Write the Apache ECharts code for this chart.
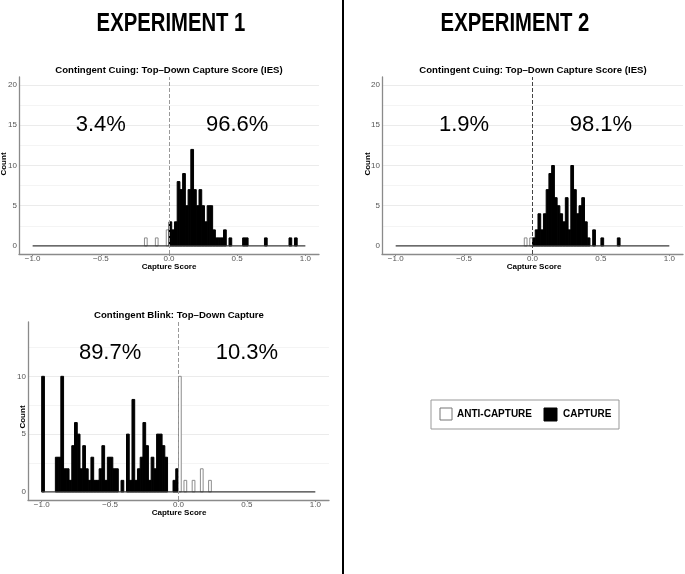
<!DOCTYPE html>
<html><head><meta charset="utf-8">
<script src="https://cdn.jsdelivr.net/npm/echarts@6/dist/echarts.min.js"></script>
<style>html,body{margin:0;padding:0;background:#fff}#c{width:685px;height:574px}</style>
</head><body><div id="c"></div>
<script>
// ---------- data ----------
const BIN = 0.02;                       // histogram bin width
const X_RANGE = [-1, 1];                // histogram range (zero-count outline)
const X_TICKS = [-1, -0.5, 0, 0.5, 1];
const Y_TICKS_TOP = [0, 5, 10, 15, 20];
const Y_TICKS_BOTTOM = [0, 5, 10];

// Experiment 1 – Contingent Cuing (bin left edges / counts)
const e1CueAntiEdges = [-0.18, -0.10, -0.02];
const e1CueAntiCounts = [1, 1, 2];
const e1CueCapEdges = [0.00,0.02,0.04,0.06,0.08,0.10,0.12,0.14,0.16,0.18,0.20,0.22,0.24,0.26,0.28,0.30,0.32,0.34,0.36,0.38,0.40,0.44,0.54,0.56,0.70,0.88,0.92];
const e1CueCapCounts = [3,2,3,8,7,9,5,7,12,7,5,7,5,3,5,5,2,1,1,1,2,1,1,1,1,1,1];
const e1CuePct = ['3.4%', '96.6%'];

// Experiment 2 – Contingent Cuing
const e2CueAntiEdges = [-0.06, -0.02];
const e2CueAntiCounts = [1, 1];
const e2CueCapEdges = [0.00,0.02,0.04,0.06,0.08,0.10,0.12,0.14,0.16,0.18,0.20,0.22,0.24,0.26,0.28,0.30,0.32,0.34,0.36,0.38,0.40,0.44,0.50,0.62];
const e2CueCapCounts = [1,2,4,2,4,7,9,10,6,5,4,3,6,2,10,7,4,5,6,3,1,2,1,1];
const e2CuePct = ['1.9%', '98.1%'];

// Experiment 1 – Contingent Blink
const e1BlinkCapEdges = [-1.00,-0.90,-0.88,-0.86,-0.84,-0.82,-0.80,-0.78,-0.76,-0.74,-0.72,-0.70,-0.68,-0.66,-0.64,-0.62,-0.60,-0.58,-0.56,-0.54,-0.52,-0.50,-0.48,-0.46,-0.42,-0.38,-0.36,-0.34,-0.32,-0.30,-0.28,-0.26,-0.24,-0.22,-0.20,-0.18,-0.16,-0.14,-0.12,-0.10,-0.04,-0.02];
const e1BlinkCapCounts = [10,3,3,10,2,2,1,4,6,5,2,4,2,1,3,1,1,2,4,1,3,3,2,2,1,5,1,8,1,2,3,6,4,1,3,2,5,5,4,3,1,2];
const e1BlinkAntiEdges = [0.00, 0.04, 0.10, 0.16, 0.22];
const e1BlinkAntiCounts = [10, 1, 1, 2, 1];
const e1BlinkPct = ['89.7%', '10.3%'];

const PCT_X = [-0.5, 0.5];
const PCT_Y_TOP = 15;
const PCT_Y_BOTTOM = 12;

// ---------- helpers ----------
const FONT = "'Liberation Sans', Arial, Helvetica, sans-serif";
function toBins(edges, counts) {
  return edges.map((e, i) => [e, +(e + BIN).toFixed(4), counts[i]]);
}
function barRenderer(fill, stroke, lw) {
  return function (params, api) {
    const x0 = api.value(0), x1 = api.value(1), n = api.value(2);
    const a = api.coord([x0, 0]), b = api.coord([x1, n]);
    return {
      type: 'rect',
      shape: { x: a[0], y: b[1], width: b[0] - a[0], height: a[1] - b[1] },
      style: { fill: fill, stroke: stroke, lineWidth: lw }
    };
  };
}
function fmtX(v) { return (Math.round(v * 10) / 10).toFixed(1).replace('-', '\u2212'); }

function xAxis(gi) {
  return {
    type: 'value', gridIndex: gi, min: -1.1, max: 1.1,
    axisLine: { show: true, onZero: false, lineStyle: { color: '#8a8a8a', width: 1.3 } },
    axisTick: { show: true, length: 2, customValues: X_TICKS, lineStyle: { color: '#8a8a8a' } },
    axisLabel: { customValues: X_TICKS, formatter: fmtX, color: '#555', fontSize: 8, fontFamily: FONT, margin: 1 },
    splitLine: { show: false }
  };
}
function yAxis(gi, lo, hi, ticks) {
  return {
    type: 'value', gridIndex: gi, min: lo, max: hi,
    axisLine: { show: true, onZero: false, lineStyle: { color: '#8a8a8a', width: 1.3 } },
    axisTick: { show: false, customValues: ticks },
    axisLabel: { customValues: ticks, color: '#555', fontSize: 8, fontFamily: FONT, margin: 2 },
    splitLine: { show: false }
  };
}
function gridLines(gi, vals, minor) {
  const data = vals.map(v => ({ yAxis: v, lineStyle: { color: '#ebebeb', width: 1, type: 'solid' } }))
    .concat(minor.map(v => ({ yAxis: v, lineStyle: { color: '#f4f4f4', width: 1, type: 'solid' } })));
  return {
    type: 'line', xAxisIndex: gi, yAxisIndex: gi, data: [], z: 0, silent: true,
    markLine: { z: 0, symbol: 'none', silent: true, animation: false, label: { show: false }, data: data }
  };
}
function baseline(gi, dashColor) {
  return {
    type: 'line', xAxisIndex: gi, yAxisIndex: gi, z: 3, silent: true, symbol: 'none',
    data: [[X_RANGE[0], 0], [X_RANGE[1], 0]],
    lineStyle: { color: '#3a3a3a', width: 1.2 },
    markLine: {
      z: 6, symbol: 'none', silent: true, animation: false, label: { show: false },
      lineStyle: { color: dashColor, width: 1, type: 'dashed' },
      data: [{ xAxis: 0 }]
    }
  };
}
function bars(gi, edges, counts, fill, stroke, lw) {
  return {
    type: 'custom', xAxisIndex: gi, yAxisIndex: gi, z: 2, silent: true,
    renderItem: barRenderer(fill, stroke, lw),
    encode: { x: [0, 1], y: 2 },
    data: toBins(edges, counts)
  };
}
function pctLabels(gi, labels, y) {
  return {
    type: 'scatter', xAxisIndex: gi, yAxisIndex: gi, symbolSize: 0, silent: true, z: 5,
    data: labels.map((t, i) => ({ value: [PCT_X[i], y], label: { formatter: t } })),
    label: { show: true, position: 'inside', color: '#000', fontSize: 22, fontFamily: FONT, textBorderWidth: 0, opacity: 1 }
  };
}

const chart = echarts.init(document.getElementById('c'), null, { renderer: 'canvas' });

const txt = (x, y, s, size, weight, extra) => Object.assign({
  type: 'text', x: x, y: y,
  style: { text: s, fontSize: size, fontWeight: weight || 'normal', fontFamily: FONT, fill: '#000', align: 'center', verticalAlign: 'middle' }
}, extra || {});

const cueTitle = 'Contingent Cuing: Top\u2013Down Capture Score (IES)';
const blinkTitle = 'Contingent Blink: Top\u2013Down Capture';

chart.setOption({
  animation: false,
  backgroundColor: '#fff',
  grid: [
    { left: 19, top: 77, width: 300, height: 177 },
    { left: 382, top: 77, width: 301, height: 177 },
    { left: 28, top: 322, width: 301, height: 178 }
  ],
  xAxis: [xAxis(0), xAxis(1), xAxis(2)],
  yAxis: [yAxis(0, -1, 21, Y_TICKS_TOP), yAxis(1, -1, 21, Y_TICKS_TOP), yAxis(2, -0.7, 14.7, Y_TICKS_BOTTOM)],
  series: [
    gridLines(0, [5, 10, 15, 20], [2.5, 7.5, 12.5, 17.5]),
    gridLines(1, [5, 10, 15, 20], [2.5, 7.5, 12.5, 17.5]),
    gridLines(2, [5, 10], [2.5, 7.5, 12.5]),
    bars(0, e1CueAntiEdges, e1CueAntiCounts, '#fff', '#8c8c8c', 1),
    bars(0, e1CueCapEdges, e1CueCapCounts, '#000', '#000', 1),
    bars(1, e2CueAntiEdges, e2CueAntiCounts, '#fff', '#8c8c8c', 1),
    bars(1, e2CueCapEdges, e2CueCapCounts, '#000', '#000', 1),
    bars(2, e1BlinkCapEdges, e1BlinkCapCounts, '#000', '#000', 1),
    bars(2, e1BlinkAntiEdges, e1BlinkAntiCounts, '#fff', '#8c8c8c', 1),
    baseline(0, '#999'),
    baseline(1, '#444'),
    baseline(2, '#999'),
    pctLabels(0, e1CuePct, PCT_Y_TOP),
    pctLabels(1, e2CuePct, PCT_Y_TOP),
    pctLabels(2, e1BlinkPct, PCT_Y_BOTTOM)
  ],
  graphic: [
    { type: 'line', shape: { x1: 343, y1: 0, x2: 343, y2: 574 }, style: { stroke: '#000', lineWidth: 2 } },
    { type: 'text', x: 171, y: 24, scaleX: 0.78, style: { text: 'EXPERIMENT 1', fontSize: 26, fontWeight: 'bold', fontFamily: FONT, fill: '#000', align: 'center', verticalAlign: 'middle' } },
    { type: 'text', x: 515, y: 24, scaleX: 0.78, style: { text: 'EXPERIMENT 2', fontSize: 26, fontWeight: 'bold', fontFamily: FONT, fill: '#000', align: 'center', verticalAlign: 'middle' } },
    txt(169, 70, cueTitle, 9.6, 'bold'),
    txt(533, 70, cueTitle, 9.6, 'bold'),
    txt(179, 315, blinkTitle, 9.6, 'bold'),
    txt(169, 267, 'Capture Score', 8, 'bold'),
    txt(534, 267, 'Capture Score', 8, 'bold'),
    txt(179, 513, 'Capture Score', 8, 'bold'),
    txt(4, 164, 'Count', 8, 'bold', { rotation: Math.PI / 2 }),
    txt(368, 164, 'Count', 8, 'bold', { rotation: Math.PI / 2 }),
    txt(23, 417, 'Count', 8, 'bold', { rotation: Math.PI / 2 }),
    // legend
    { type: 'rect', shape: { x: 431, y: 400, width: 188, height: 29 }, style: { fill: '#fff', stroke: '#999', lineWidth: 1 } },
    { type: 'rect', shape: { x: 440, y: 408, width: 12, height: 12 }, style: { fill: '#fff', stroke: '#777', lineWidth: 1 } },
    { type: 'text', x: 457, y: 414.5, style: { text: 'ANTI-CAPTURE', fontSize: 10, fontWeight: 'bold', fontFamily: FONT, fill: '#000', align: 'left', verticalAlign: 'middle' } },
    { type: 'rect', shape: { x: 544, y: 408, width: 13, height: 13 }, style: { fill: '#000', stroke: '#000', lineWidth: 1 } },
    { type: 'text', x: 563, y: 414.5, style: { text: 'CAPTURE', fontSize: 10, fontWeight: 'bold', fontFamily: FONT, fill: '#000', align: 'left', verticalAlign: 'middle' } }
  ]
});
</script>
</body></html>
